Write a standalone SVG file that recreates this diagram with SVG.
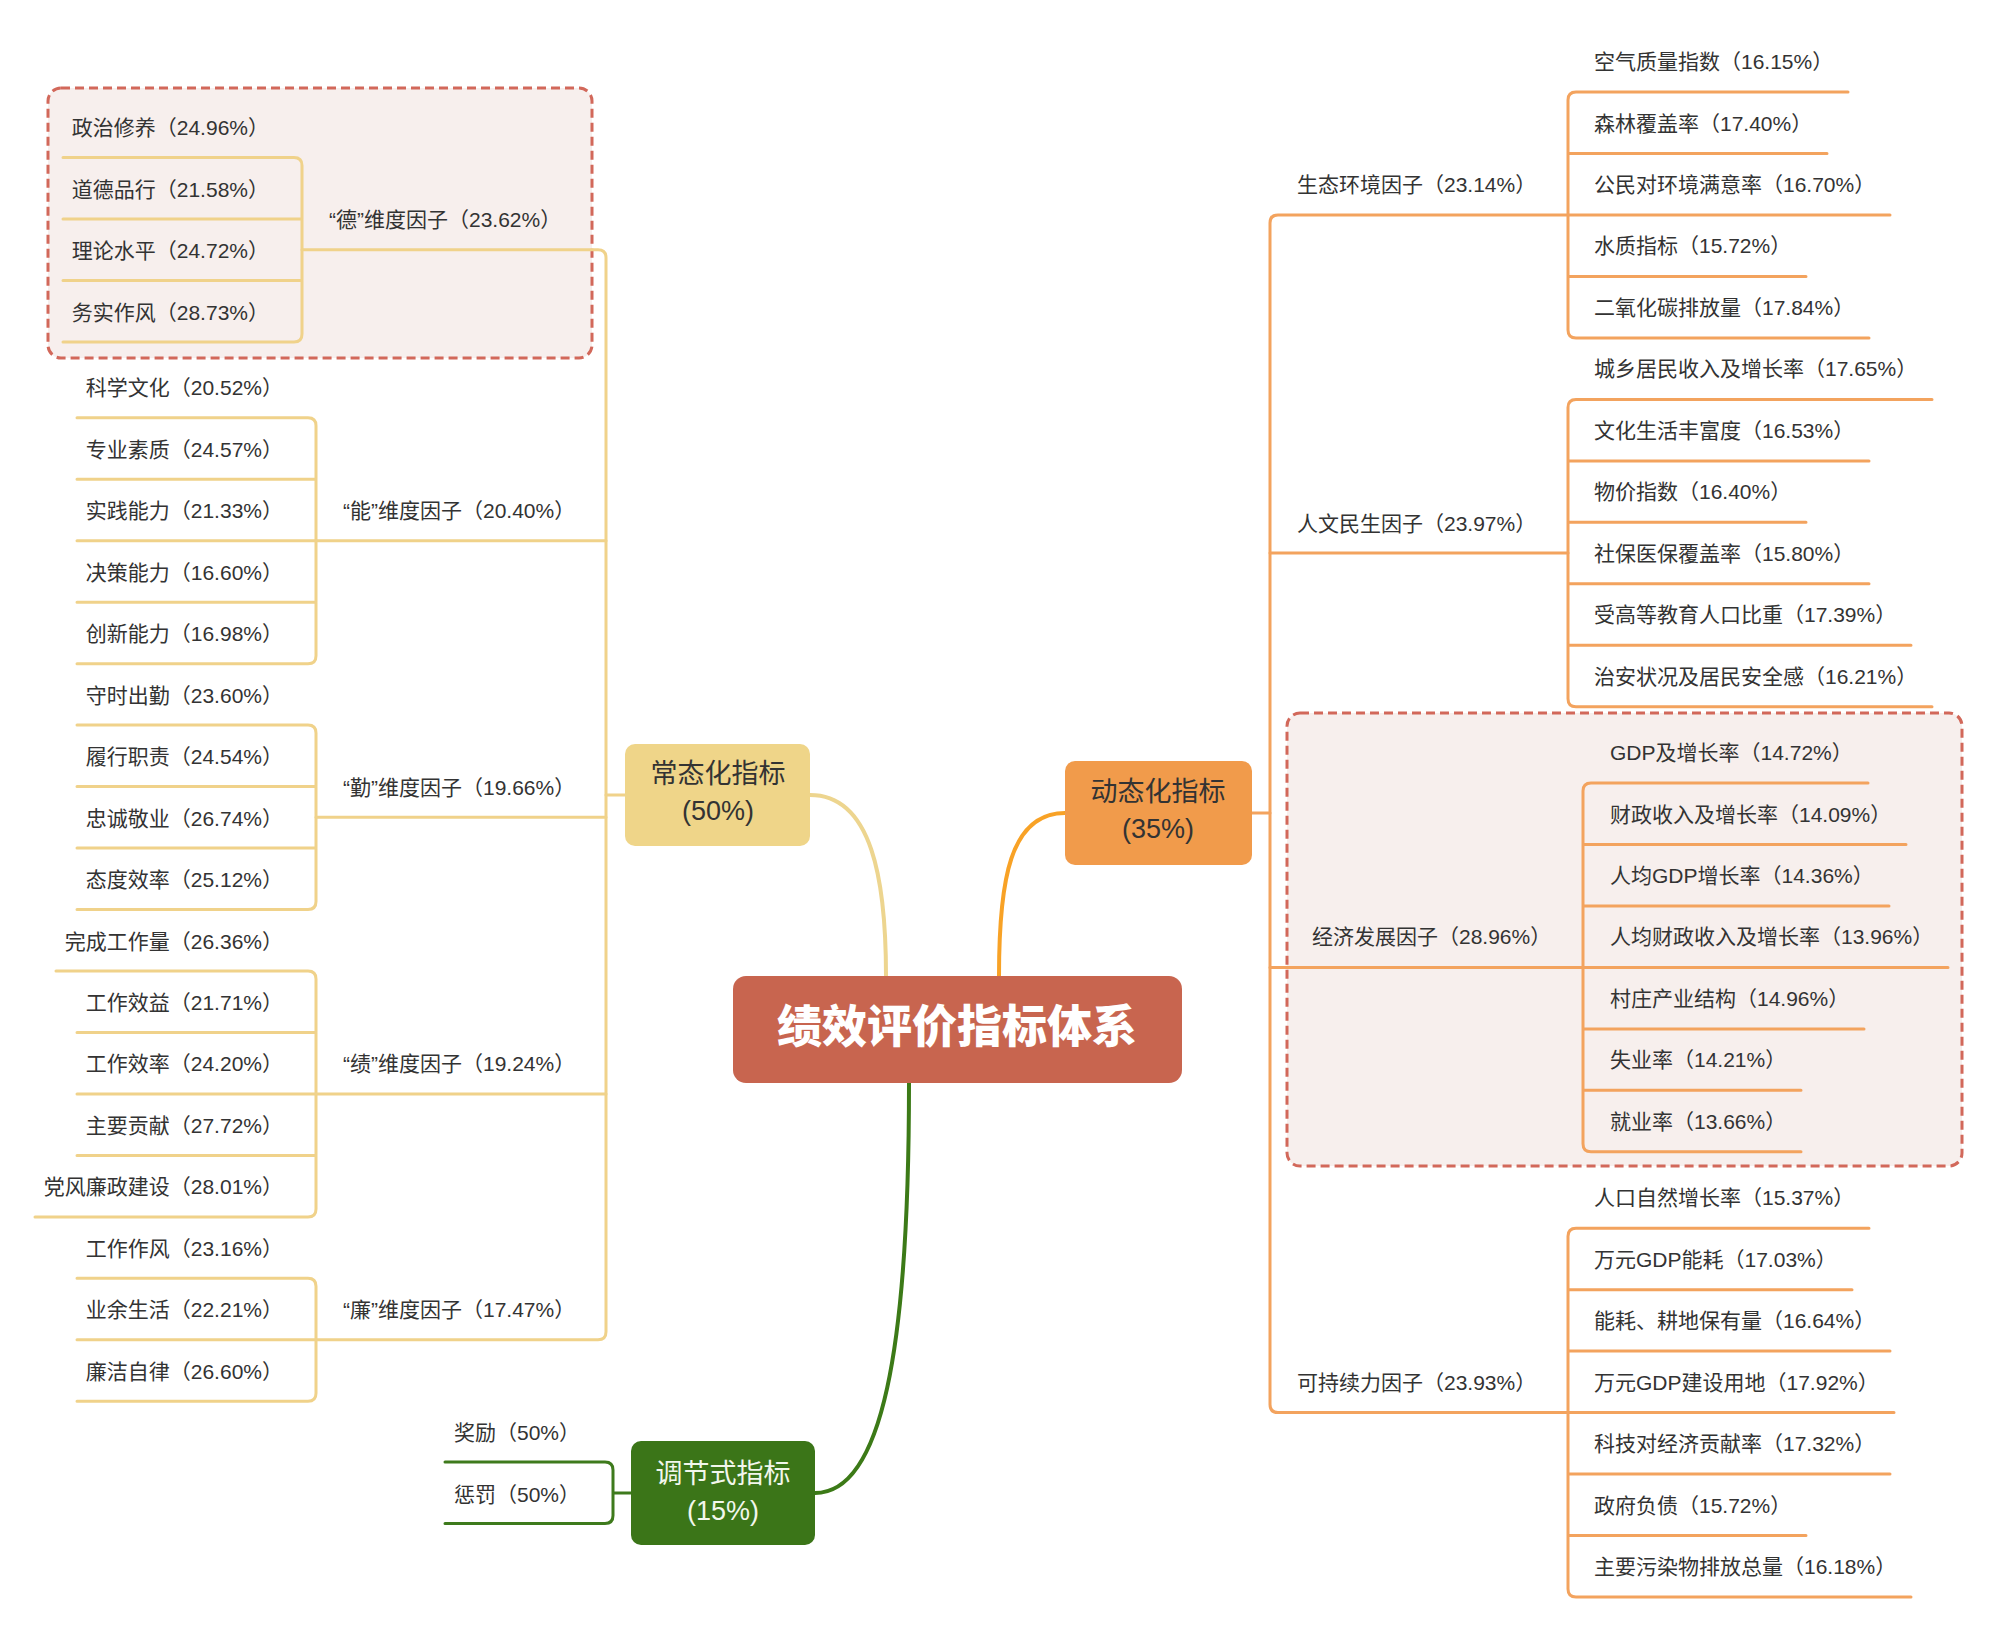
<svg xmlns="http://www.w3.org/2000/svg" width="2000" height="1634" viewBox="0 0 2000 1634">
<style>
text{font-family:"Liberation Sans","Noto Sans CJK SC",sans-serif;fill:#333}
.lf{font-size:21px}
.lt{font-size:21px;text-anchor:end}
.nd{font-size:27px;text-anchor:middle}
.yl{stroke:#F0D28A;stroke-width:3;fill:none;stroke-linecap:round}
.ol{stroke:#F3A35E;stroke-width:3;fill:none;stroke-linecap:round}
.gl{stroke:#3E7A1C;stroke-width:3;fill:none;stroke-linecap:round}
.db{fill:#F7EFED;stroke:#D2685A;stroke-width:3;stroke-dasharray:9 5}
</style>
<rect width="2000" height="1634" fill="#fff"/>
<g id="boundaries">
<rect class="db" x="48" y="88" width="544" height="270" rx="13"/>
<rect class="db" x="1287" y="713" width="675" height="453" rx="13"/>
</g>
<g id="connectors">
<path d="M810,795 C872,795 886,880 886,976" stroke="#EDD58F" stroke-width="4" fill="none"/>
<path d="M1065,813 C1010,813 999,880 999,976" stroke="#F8A226" stroke-width="4" fill="none"/>
<path d="M815,1493 C882,1493 909,1350 909,1083" stroke="#3C7A17" stroke-width="4" fill="none"/>
<path class="yl" d="M302,249.75 H598 Q606,249.75 606,257.75 V1331.8 Q606,1339.8 598,1339.8 H316"/>
<path class="yl" d="M316,540.7 H606 M316,817.3 H606 M316,1093.9 H606 M606,795 H625"/>
<path class="yl" d="M63,157.5 H294 Q302,157.5 302,165.5 V334 Q302,342 294,342 H63 M63,219 H302 M63,280.5 H302"/>
<path class="yl" d="M77,417.8 H308 Q316,417.8 316,425.8 V655.7 Q316,663.7 308,663.7 H77 M77,479.3 H316 M77,540.7 H316 M77,602.2 H316"/>
<path class="yl" d="M77,725.1 H308 Q316,725.1 316,733.1 V901.5 Q316,909.5 308,909.5 H77 M77,786.6 H316 M77,848.1 H316"/>
<path class="yl" d="M56,971 H308 Q316,971 316,979 V1208.9 Q316,1216.9 308,1216.9 H35 M77,1032.5 H316 M77,1093.9 H316 M77,1155.4 H316"/>
<path class="yl" d="M77,1278.3 H308 Q316,1278.3 316,1286.3 V1393.3 Q316,1401.3 308,1401.3 H77 M77,1339.8 H316"/>
<path class="ol" d="M1568,214.9 H1278 Q1270,214.9 1270,222.9 V1404.6 Q1270,1412.6 1278,1412.6 H1568"/>
<path class="ol" d="M1270,553.05 H1568 M1270,967.4 H1583 M1251,813 H1270"/>
<path class="ol" d="M1848,92 H1576 Q1568,92 1568,100 V329.9 Q1568,337.9 1576,337.9 H1869 M1568,153.5 H1827 M1568,214.9 H1890 M1568,276.4 H1806"/>
<path class="ol" d="M1932,399.4 H1576 Q1568,399.4 1568,407.4 V698.7 Q1568,706.7 1576,706.7 H1932 M1568,460.9 H1869 M1568,522.3 H1806 M1568,583.8 H1869 M1568,645.3 H1911"/>
<path class="ol" d="M1868,783 H1591 Q1583,783 1583,791 V1143.8 Q1583,1151.8 1591,1151.8 H1801 M1583,844.5 H1906 M1583,905.9 H1889 M1583,967.4 H1948 M1583,1028.9 H1864 M1583,1090.3 H1801"/>
<path class="ol" d="M1869,1228.2 H1576 Q1568,1228.2 1568,1236.2 V1589 Q1568,1597 1576,1597 H1911 M1568,1289.7 H1852 M1568,1351.1 H1890 M1568,1412.6 H1894 M1568,1474.1 H1890 M1568,1535.5 H1806"/>
<path class="gl" d="M445,1462 H605 Q613,1462 613,1470 V1515.5 Q613,1523.5 605,1523.5 H445 M613,1493 H631"/>
</g>
<g id="center">
<rect x="733" y="976" width="449" height="107" rx="13" fill="#C8654F"/>
<text x="957" y="1043" text-anchor="middle" style="font-size:45px;font-weight:900;fill:#fff">绩效评价指标体系</text>
</g>
<g id="node-changtai">
<rect x="625" y="744" width="185" height="102" rx="10" fill="#EFD589"/>
<text class="nd" x="718" y="783">常态化指标</text>
<text class="nd" x="718" y="820">(50%)</text>
</g>
<g id="node-dongtai">
<rect x="1065" y="761" width="187" height="104" rx="10" fill="#F19B4B"/>
<text class="nd" x="1158" y="801">动态化指标</text>
<text class="nd" x="1158" y="838">(35%)</text>
</g>
<g id="node-tiaojie">
<rect x="631" y="1441" width="184" height="104" rx="10" fill="#3B7518"/>
<text class="nd" x="723" y="1483" style="fill:#F2F7EC">调节式指标</text>
<text class="nd" x="723" y="1520" style="fill:#F2F7EC">(15%)</text>
</g>
<g id="left-factors">
<text class="lf" x="329" y="227.3">“德”维度因子（23.62%）</text>
<text class="lf" x="343" y="518.2">“能”维度因子（20.40%）</text>
<text class="lf" x="343" y="794.8">“勤”维度因子（19.66%）</text>
<text class="lf" x="343" y="1071.4">“绩”维度因子（19.24%）</text>
<text class="lf" x="343" y="1317.3">“廉”维度因子（17.47%）</text>
</g>
<g id="left-leaves">
<text class="lt" x="269" y="135">政治修养（24.96%）</text>
<text class="lt" x="269" y="196.5">道德品行（21.58%）</text>
<text class="lt" x="269" y="258">理论水平（24.72%）</text>
<text class="lt" x="269" y="319.5">务实作风（28.73%）</text>
<text class="lt" x="283" y="395.3">科学文化（20.52%）</text>
<text class="lt" x="283" y="456.8">专业素质（24.57%）</text>
<text class="lt" x="283" y="518.2">实践能力（21.33%）</text>
<text class="lt" x="283" y="579.7">决策能力（16.60%）</text>
<text class="lt" x="283" y="641.2">创新能力（16.98%）</text>
<text class="lt" x="283" y="702.6">守时出勤（23.60%）</text>
<text class="lt" x="283" y="764.1">履行职责（24.54%）</text>
<text class="lt" x="283" y="825.6">忠诚敬业（26.74%）</text>
<text class="lt" x="283" y="887">态度效率（25.12%）</text>
<text class="lt" x="283" y="948.5">完成工作量（26.36%）</text>
<text class="lt" x="283" y="1010">工作效益（21.71%）</text>
<text class="lt" x="283" y="1071.4">工作效率（24.20%）</text>
<text class="lt" x="283" y="1132.9">主要贡献（27.72%）</text>
<text class="lt" x="283" y="1194.4">党风廉政建设（28.01%）</text>
<text class="lt" x="283" y="1255.8">工作作风（23.16%）</text>
<text class="lt" x="283" y="1317.3">业余生活（22.21%）</text>
<text class="lt" x="283" y="1378.8">廉洁自律（26.60%）</text>
</g>
<g id="green-leaves">
<text class="lt" x="580" y="1439.5">奖励（50%）</text>
<text class="lt" x="580" y="1501.5">惩罚（50%）</text>
</g>
<g id="right-factors">
<text class="lf" x="1297" y="191.9">生态环境因子（23.14%）</text>
<text class="lf" x="1297" y="530.6">人文民生因子（23.97%）</text>
<text class="lf" x="1312" y="944.4">经济发展因子（28.96%）</text>
<text class="lf" x="1297" y="1389.6">可持续力因子（23.93%）</text>
</g>
<g id="right-leaves">
<text class="lf" x="1594" y="69">空气质量指数（16.15%）</text>
<text class="lf" x="1594" y="130.5">森林覆盖率（17.40%）</text>
<text class="lf" x="1594" y="191.9">公民对环境满意率（16.70%）</text>
<text class="lf" x="1594" y="253.4">水质指标（15.72%）</text>
<text class="lf" x="1594" y="314.9">二氧化碳排放量（17.84%）</text>
<text class="lf" x="1594" y="376.4">城乡居民收入及增长率（17.65%）</text>
<text class="lf" x="1594" y="437.9">文化生活丰富度（16.53%）</text>
<text class="lf" x="1594" y="499.3">物价指数（16.40%）</text>
<text class="lf" x="1594" y="560.8">社保医保覆盖率（15.80%）</text>
<text class="lf" x="1594" y="622.3">受高等教育人口比重（17.39%）</text>
<text class="lf" x="1594" y="683.7">治安状况及居民安全感（16.21%）</text>
<text class="lf" x="1610" y="760">GDP及增长率（14.72%）</text>
<text class="lf" x="1610" y="821.5">财政收入及增长率（14.09%）</text>
<text class="lf" x="1610" y="882.9">人均GDP增长率（14.36%）</text>
<text class="lf" x="1610" y="944.4">人均财政收入及增长率（13.96%）</text>
<text class="lf" x="1610" y="1005.9">村庄产业结构（14.96%）</text>
<text class="lf" x="1610" y="1067.3">失业率（14.21%）</text>
<text class="lf" x="1610" y="1128.8">就业率（13.66%）</text>
<text class="lf" x="1594" y="1205.2">人口自然增长率（15.37%）</text>
<text class="lf" x="1594" y="1266.7">万元GDP能耗（17.03%）</text>
<text class="lf" x="1594" y="1328.1">能耗、耕地保有量（16.64%）</text>
<text class="lf" x="1594" y="1389.6">万元GDP建设用地（17.92%）</text>
<text class="lf" x="1594" y="1451.1">科技对经济贡献率（17.32%）</text>
<text class="lf" x="1594" y="1512.5">政府负债（15.72%）</text>
<text class="lf" x="1594" y="1574">主要污染物排放总量（16.18%）</text>
</g>
</svg>
